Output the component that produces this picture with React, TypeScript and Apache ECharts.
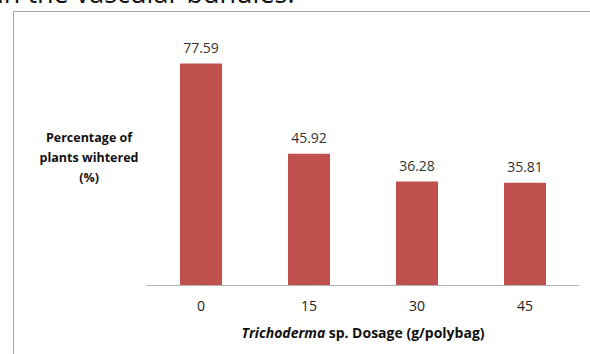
import React, { useEffect, useRef } from "react";
import * as echarts from "echarts";

const categories = ["0", "15", "30", "45"];
const values = [77.59, 45.92, 36.28, 35.81];
const yTitleLines = ["Percentage of", "plants wihtered", "(%)"];
const captionText = "in the vascular bundles.";

export default function App() {
  const ref = useRef<HTMLDivElement>(null);
  useEffect(() => {
    const chart = echarts.init(ref.current!, null, { renderer: "svg" });
    const font = "'Open Sans', 'DejaVu Sans', sans-serif";
    chart.setOption({
      animation: false,
      backgroundColor: "#ffffff",
      grid: { left: 147, right: 11, top: 28, bottom: 69, containLabel: false },
      xAxis: {
        type: "category",
        data: categories,
        axisLine: { show: true, lineStyle: { color: "#b3b3b3", width: 1 } },
        axisTick: { show: false },
        axisLabel: { color: "#222", fontSize: 14, fontFamily: font, margin: 13 },
        name: "{i|Trichoderma} {b|sp. Dosage (g/polybag)}",
        nameLocation: "middle",
        nameGap: 40,
        nameTextStyle: {
          rich: {
            i: { fontStyle: "italic", fontWeight: "bold", fontSize: 14, color: "#111", fontFamily: font },
            b: { fontWeight: "bold", fontSize: 14, color: "#111", fontFamily: font },
          },
        },
      },
      yAxis: {
        type: "value",
        min: 0,
        max: 90,
        show: false,
      },
      series: [
        {
          type: "bar",
          data: values,
          barWidth: 42,
          itemStyle: { color: "#c0504d" },
          label: {
            show: true,
            position: "top",
            distance: 9,
            color: "#333",
            fontSize: 14,
            fontFamily: font,
            formatter: (p: any) => p.value.toFixed(2),
          },
        },
      ],
      graphic: [
        {
          type: "rect",
          shape: { x: 13.5, y: 11.5, width: 700, height: 500 },
          style: { fill: "none", stroke: "#a6a6a6", lineWidth: 1 },
          silent: true,
        },
        {
          type: "text",
          x: 89,
          y: 127,
          style: {
            text: yTitleLines.join("\n"),
            fontFamily: font,
            fontWeight: "bold",
            fontSize: 12.5,
            fill: "#111",
            align: "center",
            verticalAlign: "top",
            lineHeight: 20,
          },
        },
        {
          type: "text",
          x: -3,
          y: 6,
          style: {
            text: captionText,
            fontFamily: font,
            fontSize: 27,
            fill: "#111",
            verticalAlign: "bottom",
          },
        },
      ],
    });
    return () => chart.dispose();
  }, []);
  return (
    <div
      ref={ref}
      style={{ position: "fixed", left: 0, top: 0, width: 590, height: 354 }}
    />
  );
}
